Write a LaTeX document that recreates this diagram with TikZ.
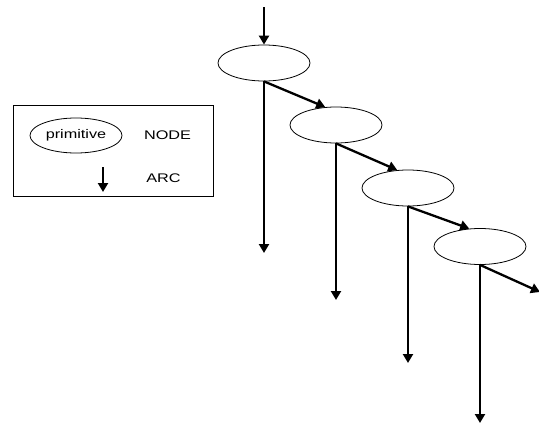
\documentclass[tikz,border=0pt]{standalone}
\usepackage{fontspec}
\setmainfont{Liberation Sans}
\usetikzlibrary{arrows.meta,shapes.geometric}
\newcommand{\wide}[1]{\scalebox{1.3}[1]{#1}}
\begin{document}
\begin{tikzpicture}[x=1pt,y=-1pt,
  cell/.style={ellipse,draw,line width=0.8pt,minimum width=92pt,minimum height=36pt,inner sep=0pt},
  arc/.style={line width=2.3pt,-{Triangle[width=10pt,length=9pt]}},
  label/.style={font=\fontsize{12.5}{14}\selectfont,inner sep=0pt}]
\useasboundingbox (0,0) rectangle (539,426);

% legend
\node[draw,line width=0.7pt,minimum width=200pt,minimum height=91pt,inner sep=0pt] (legend) at (113,150.5) {};
\node[cell,minimum height=35pt,label] (prim) at (76,135.5) {\wide{primitive}};
\node[label] (nodetxt) at (167.5,135.5) {\wide{NODE}};
\node[label] (arctxt) at (163.5,178) {\wide{ARC}};
\coordinate (la) at (103,167);
\coordinate (lb) at (103,192);
\draw[arc] (la) -- (lb);

% chain of nodes
\node[cell] (e1) at (264,63) {};
\node[cell] (e2) at (336,125) {};
\node[cell] (e3) at (408,188) {};
\node[cell] (e4) at (480,246.5) {};

\coordinate (top) at (264,7);
\coordinate (d1) at (264,253);
\coordinate (d2) at (336,300);
\coordinate (d3) at (408,363);
\coordinate (d4) at (480,423);
\coordinate (out) at (540,292);

\draw[arc] (top) -- (e1.north);
\draw[arc] (e1.south) -- (d1);
\draw[arc] (e2.south) -- (d2);
\draw[arc] (e3.south) -- (d3);
\draw[arc] (e4.south) -- (d4);
\draw[arc] (e1.south) -- (e2.121);
\draw[arc] (e2.south) -- (e3.121);
\draw[arc] (e3.south) -- (e4.121);
\draw[arc] (e4.south) -- (out);
\end{tikzpicture}
\end{document}
